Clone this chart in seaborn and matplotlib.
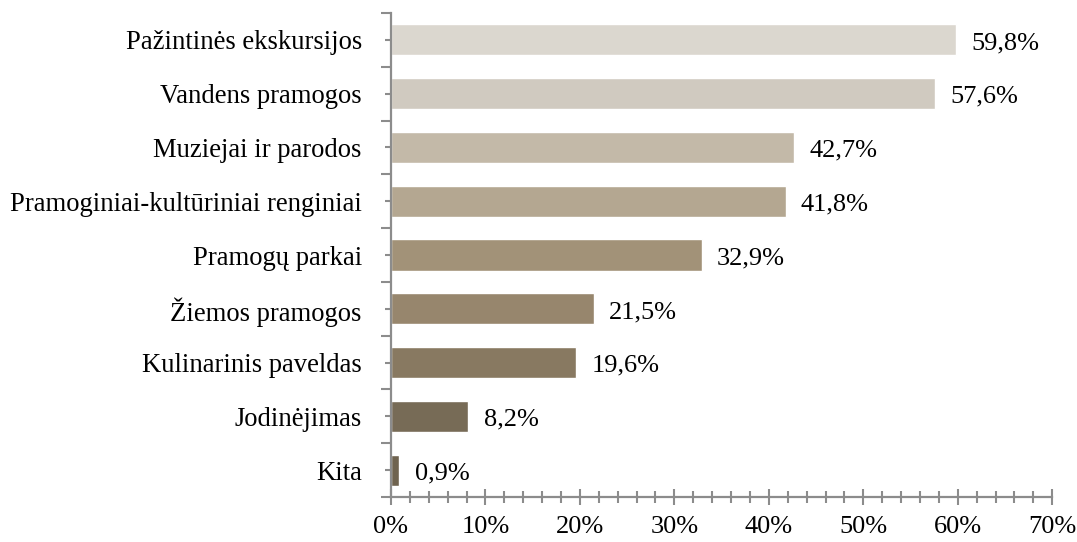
import numpy as np
import matplotlib
matplotlib.use("Agg")
import matplotlib.pyplot as plt
from matplotlib.ticker import MultipleLocator, FixedLocator, FuncFormatter
import seaborn as sns

# data
categories = ["Pažintinės ekskursijos", "Vandens pramogos", "Muziejai ir parodos",
              "Pramoginiai-kultūriniai renginiai", "Pramogų parkai", "Žiemos pramogos",
              "Kulinarinis paveldas", "Jodinėjimas", "Kita"]
values = [59.8, 57.6, 42.7, 41.8, 32.9, 21.5, 19.6, 8.2, 0.9]
bar_colors = ["#DDD7CD", "#D3CBBD", "#C7BAA4", "#BAA88B", "#A99371",
              "#9E8866", "#8F7B5A", "#7D6C50", "#756449"]

sns.set_style("white")
plt.rcParams['font.family'] = ['Liberation Serif', 'DejaVu Serif']

fig = plt.figure(figsize=(10.77, 5.42), dpi=100)
ax = fig.add_axes([0.363, 0.083, 0.614, 0.893])

sns.barplot(x=values, y=categories, hue=categories, palette=bar_colors,
            orient="h", width=0.58, legend=False, ax=ax)

# value labels
for i, v in enumerate(values):
    ax.text(v + 1.6, i + 0.06, f"{v:.1f}%".replace(".", ","), va="center", ha="left",
            fontsize=19, color="black")

# axes formatting
ax.set_xlim(0, 70)
ax.set_ylim(len(categories) - 0.5, -0.5)
ax.xaxis.set_major_locator(MultipleLocator(10))
ax.xaxis.set_minor_locator(MultipleLocator(2))
ax.xaxis.set_major_formatter(FuncFormatter(lambda x, p: f"{x:.0f}%"))
ax.yaxis.set_minor_locator(FixedLocator(np.arange(-0.5, len(categories), 1.0)))

gray = "#8C8C8C"
for side in ["top", "right"]:
    ax.spines[side].set_visible(False)
for side in ["left", "bottom"]:
    ax.spines[side].set_color(gray)
    ax.spines[side].set_linewidth(1.6)

ax.tick_params(axis="x", which="major", direction="inout", length=12, width=1.5,
               color=gray, labelsize=19, labelcolor="black", pad=8, bottom=True)
ax.tick_params(axis="x", which="minor", direction="inout", length=8, width=1.5,
               color=gray, bottom=True)
ax.tick_params(axis="y", which="major", direction="inout", length=8, width=1.5,
               color=gray, labelsize=19.2, labelcolor="black", pad=17, left=True)
ax.tick_params(axis="y", which="minor", direction="out", length=7, width=1.5,
               color=gray, left=True)
ax.set_xlabel("")
ax.set_ylabel("")

plt.savefig("out.png", dpi=100)
